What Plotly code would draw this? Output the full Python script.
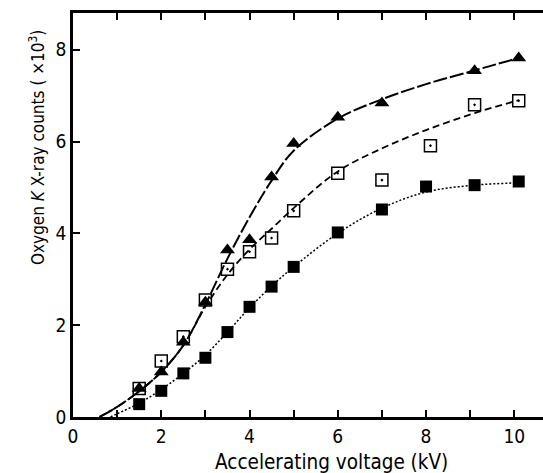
import plotly.graph_objects as go

# Measured points
kv_tri = [1.5, 2.0, 2.5, 3.0, 3.5, 4.0, 4.5, 5.0, 6.0, 7.0, 9.1, 10.1]
cnt_tri = [0.62, 0.98, 1.63, 2.50, 3.64, 3.86, 5.23, 5.96, 6.53, 6.84, 7.54, 7.82]

kv_open = [1.5, 2.0, 2.5, 3.0, 3.5, 4.0, 4.5, 5.0, 6.0, 7.0, 8.1, 9.1, 10.1]
cnt_open = [0.62, 1.22, 1.75, 2.55, 3.22, 3.60, 3.90, 4.49, 5.31, 5.16, 5.91, 6.80, 6.89]

kv_fill = [1.5, 2.0, 2.5, 3.0, 3.5, 4.0, 4.5, 5.0, 6.0, 7.0, 8.0, 9.1, 10.1]
cnt_fill = [0.28, 0.57, 0.95, 1.29, 1.85, 2.40, 2.84, 3.27, 4.02, 4.52, 5.02, 5.05, 5.13]

# Hand-drawn fitted curves
kv_tri_curve = [0.6, 1.0, 1.5, 2.0, 2.5, 3.0, 3.5, 4.0, 4.5, 5.0, 6.0, 7.0, 8.0, 9.1, 10.1]
cnt_tri_curve = [0.0, 0.22, 0.56, 0.98, 1.56, 2.45, 3.45, 4.35, 5.15, 5.8, 6.5, 6.92, 7.25, 7.55, 7.82]

kv_open_curve = [0.6, 1.0, 1.5, 2.0, 2.5, 3.0, 3.5, 4.0, 4.5, 5.0, 6.0, 7.0, 8.0, 9.1, 10.1]
cnt_open_curve = [0.0, 0.22, 0.56, 0.98, 1.56, 2.4, 3.1, 3.65, 4.1, 4.55, 5.35, 5.85, 6.25, 6.62, 6.9]

kv_fill_curve = [0.85, 1.0, 1.5, 2.0, 2.5, 3.0, 3.5, 4.0, 4.5, 5.0, 6.0, 7.0, 8.0, 9.1, 10.1]
cnt_fill_curve = [0.0, 0.07, 0.3, 0.6, 0.95, 1.35, 1.85, 2.38, 2.85, 3.27, 4.0, 4.55, 4.9, 5.05, 5.1]

x_ticks = [0, 2, 4, 6, 8, 10]
y_ticks = [0, 2, 4, 6, 8]

FONT = "DejaVu Sans Condensed, sans-serif"

fig = go.Figure()
fig.add_trace(go.Scatter(x=kv_tri_curve, y=cnt_tri_curve, mode="lines", line_shape="spline",
                         line=dict(color="black", width=2, dash="14px,3px")))
fig.add_trace(go.Scatter(x=kv_open_curve, y=cnt_open_curve, mode="lines", line_shape="spline",
                         line=dict(color="black", width=1.8, dash="7px,4px")))
fig.add_trace(go.Scatter(x=kv_fill_curve, y=cnt_fill_curve, mode="lines", line_shape="spline",
                         line=dict(color="black", width=1.5, dash="2px,2px")))
fig.add_trace(go.Scatter(x=kv_fill, y=cnt_fill, mode="markers",
                         marker=dict(symbol="square", size=12, color="black")))
fig.add_trace(go.Scatter(x=kv_open, y=cnt_open, mode="markers",
                         marker=dict(symbol="square-open-dot", size=12, color="black",
                                     line=dict(width=1.5, color="black"))))
fig.add_trace(go.Scatter(x=kv_tri, y=cnt_tri, mode="markers",
                         marker=dict(symbol="triangle-up", size=13, color="black")))

fig.update_layout(
    width=543, height=473,
    margin=dict(l=73, r=0, t=13, b=56),
    paper_bgcolor="white", plot_bgcolor="white",
    showlegend=False,
    font=dict(family=FONT, size=19, color="black"),
)
fig.update_xaxes(range=[0, 10.65], tickvals=x_ticks, ticktext=[str(v) for v in x_ticks],
                 showgrid=False, zeroline=False, showline=True, linecolor="black", linewidth=2.5,
                 mirror="ticks", ticks="inside", ticklen=7, tickwidth=1.5, tickcolor="black",
                 minor=dict(dtick=1, ticks="inside", ticklen=7, tickwidth=1.5, tickcolor="black"),
                 tickfont=dict(size=19))
fig.update_yaxes(range=[0, 8.8], tickvals=y_ticks, ticktext=[str(v) for v in y_ticks],
                 showgrid=False, zeroline=False, showline=True, linecolor="black", linewidth=2.5,
                 mirror=False, ticks="inside", ticklen=7, tickwidth=1.5, tickcolor="black",
                 tickfont=dict(size=19))

fig.add_annotation(text="Accelerating voltage (kV)", xref="paper", yref="paper",
                   x=(331 - 73) / 470, y=-(462 - 417) / 404, xanchor="center", yanchor="middle",
                   showarrow=False, font=dict(size=20.5))
fig.add_annotation(text="Oxygen <i>K</i> X-ray counts ( ×10<sup>3</sup>)", xref="paper", yref="paper",
                   x=-(73 - 37) / 470, y=(417 - 148) / 404, xanchor="center", yanchor="middle",
                   textangle=-90, showarrow=False, font=dict(size=17))

fig.write_html("out.html")
